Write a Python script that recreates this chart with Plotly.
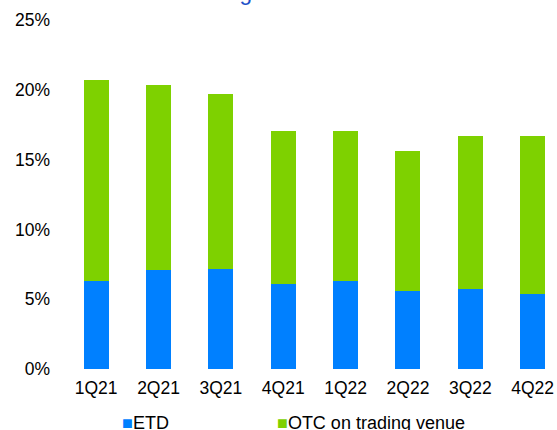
import plotly.graph_objects as go

quarters = ["1Q21", "2Q21", "3Q21", "4Q21", "1Q22", "2Q22", "3Q22", "4Q22"]
etd = [6.33, 7.11, 7.14, 6.11, 6.28, 5.61, 5.71, 5.37]
otc_venue = [14.37, 13.23, 12.58, 10.92, 10.79, 9.98, 10.98, 11.30]
y_ticks = [0, 5, 10, 15, 20, 25]
y_tick_labels = ["0%", "5%", "10%", "15%", "20%", "25%"]
title_text = "Execution on trading venues vs OTC"

ETD_COLOR = "#0080FF"
OTC_COLOR = "#7ED100"
FONT = "Arial, Liberation Sans, sans-serif"

fig = go.Figure()
fig.add_trace(go.Bar(x=quarters, y=etd, name="ETD", marker=dict(color=ETD_COLOR, line=dict(width=0)),
                     width=0.4, showlegend=False))
fig.add_trace(go.Bar(x=quarters, y=otc_venue, name="OTC on trading venue",
                     marker=dict(color=OTC_COLOR, line=dict(width=0)), width=0.4, showlegend=False))

fig.update_layout(
    barmode="stack",
    width=557, height=430,
    margin=dict(l=65, r=0, t=20, b=61),
    paper_bgcolor="white", plot_bgcolor="white",
    font=dict(family=FONT, size=17.5, color="#000000"),
    xaxis=dict(range=[-0.5, 7.39], showgrid=False, zeroline=False, showline=False,
               ticks="", ticklabelstandoff=6, tickfont=dict(size=17.5)),
    yaxis=dict(range=[0, 25], tickvals=y_ticks, ticktext=y_tick_labels, showgrid=False,
               zeroline=False, showline=False, ticks="", ticklabelstandoff=14,
               tickfont=dict(size=17.5)),
    annotations=[
        dict(text=title_text, xref="paper", yref="paper", x=-0.043, y=1.0375,
             xanchor="left", yanchor="bottom", showarrow=False,
             font=dict(family=FONT, size=22.6, color="#2050C8")),
        dict(text=f'<span style="color:{ETD_COLOR}">■</span>ETD', xref="paper", yref="paper",
             x=0.112, y=-0.1547, xanchor="left", yanchor="middle", showarrow=False,
             font=dict(family=FONT, size=18, color="#000000")),
        dict(text=f'<span style="color:{OTC_COLOR}">■</span>OTC on trading venue', xref="paper", yref="paper",
             x=0.4273, y=-0.1547, xanchor="left", yanchor="middle", showarrow=False,
             font=dict(family=FONT, size=18, color="#000000")),
    ],
)

fig.write_html("out.html", config={"displayModeBar": False},
               post_script="document.body.style.margin='0';document.body.style.overflow='hidden';")
